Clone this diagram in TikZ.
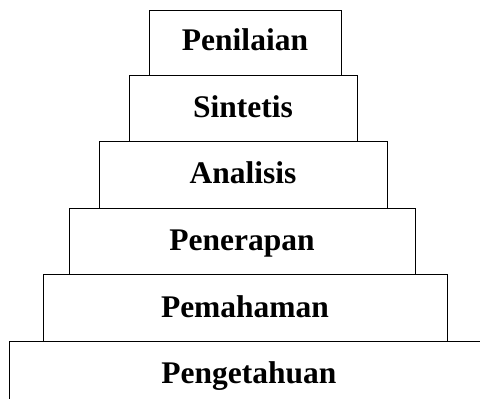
\documentclass[tikz,border=0pt]{standalone}
\usepackage{fontspec}
\setmainfont{Liberation Serif}
\tikzset{levelbox/.style={draw,line width=1pt},
  leveltext/.style={anchor=base,inner sep=0pt,font=\fontsize{31.5}{36}\selectfont\bfseries}}
\begin{document}
\begin{tikzpicture}[x=1pt,y=-1pt]
  \useasboundingbox (0,0) rectangle (480,401);
  \draw[levelbox] (149,11) rectangle (341,76);
  \node[leveltext] (penilaian) at (245,51) {Penilaian};
  \draw[levelbox] (129,76) rectangle (357,142);
  \node[leveltext] (sintetis) at (243,118) {Sintetis};
  \draw[levelbox] (99,142) rectangle (387,209);
  \node[leveltext] (analisis) at (243,184) {Analisis};
  \draw[levelbox] (69,209) rectangle (415,275);
  \node[leveltext] (penerapan) at (242,251) {Penerapan};
  \draw[levelbox] (43,275) rectangle (447,341);
  \node[leveltext] (pemahaman) at (245,317) {Pemahaman};
  \draw[levelbox] (480,341) -- (9,341) -- (9,399);
  \node[leveltext] (pengetahuan) at (249,383) {Pengetahuan};
\end{tikzpicture}
\end{document}
